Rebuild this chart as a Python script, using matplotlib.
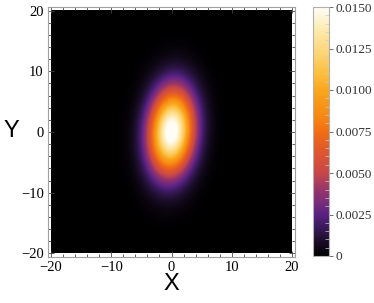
import numpy as np
import matplotlib
matplotlib.use("Agg")
import matplotlib.pyplot as plt
from matplotlib.colors import LinearSegmentedColormap
from matplotlib.ticker import MultipleLocator

# ---- data (Gaussian density surface) ----
x_range = [-20, 20]
y_range = [-20, 20]
mean_xy = [0.0, 0.0]
sigma_x = 2.6
sigma_y = 4.8
rho = 0.1
peak_density = 0.0158
vmin, vmax = 0.0, 0.015
cbar_ticks = [0, 0.0025, 0.005, 0.0075, 0.01, 0.0125, 0.015]
cbar_labels = ["0", "0.0025", "0.0050", "0.0075", "0.0100", "0.0125", "0.0150"]
axis_ticks = [-20, -10, 0, 10, 20]
axis_tick_labels = ["\u221220", "\u221210", "0", "10", "20"]

xs = np.linspace(x_range[0], x_range[1], 401)
ys = np.linspace(y_range[0], y_range[1], 401)
X, Y = np.meshgrid(xs, ys)
dx = (X - mean_xy[0]) / sigma_x
dy = (Y - mean_xy[1]) / sigma_y
Z = peak_density * np.exp(-(dx**2 - 2 * rho * dx * dy + dy**2) / (2 * (1 - rho**2)))

cmap = LinearSegmentedColormap.from_list("sunset", [
    (0.000, "#000000"),
    (0.067, "#201030"),
    (0.120, "#3c1a60"),
    (0.167, "#5a2282"),
    (0.200, "#702a7e"),
    (0.267, "#98356a"),
    (0.333, "#c84848"),
    (0.413, "#dd5530"),
    (0.500, "#f26d12"),
    (0.567, "#f78a14"),
    (0.667, "#f9a61e"),
    (0.733, "#fbbf40"),
    (0.833, "#fdd882"),
    (0.900, "#fde8a8"),
    (1.000, "#fffdf6"),
])

fig = plt.figure(figsize=(3.74, 3.03), dpi=100)
ax = fig.add_axes([48 / 374, 1 - 257 / 303, 247 / 374, 250 / 303])
im = ax.imshow(Z, extent=[x_range[0], x_range[1], y_range[0], y_range[1]],
               origin="lower", cmap=cmap, vmin=vmin, vmax=vmax,
               interpolation="bilinear", aspect="auto")
ax.set_xlim(-20.5, 20.5)
ax.set_ylim(-20.6, 20.6)

serif = ["Liberation Serif", "DejaVu Serif"]
for sp in ax.spines.values():
    sp.set_color("#a0a0a0")
    sp.set_linewidth(0.8)
ax.set_xticks(axis_ticks)
ax.set_yticks(axis_ticks)
ax.set_xticklabels(axis_tick_labels)
ax.set_yticklabels(axis_tick_labels)
ax.xaxis.set_minor_locator(MultipleLocator(2))
ax.yaxis.set_minor_locator(MultipleLocator(2))
ax.tick_params(which="both", direction="in", top=True, right=True,
               color="#444444", width=0.6)
ax.tick_params(which="major", length=4, labelsize=10.5, pad=3)
ax.tick_params(which="minor", length=2)
for lab in ax.get_xticklabels() + ax.get_yticklabels():
    lab.set_family(serif)

ax.set_xlabel("X", fontsize=17, family=["Liberation Sans"], labelpad=-1)
fig.text(4 / 374, 1 - 131 / 303, "Y", fontsize=17, family=["Liberation Sans"],
         ha="left", va="center")

cax = fig.add_axes([313 / 374, 1 - 256 / 303, 16 / 374, 249 / 303])
cb = fig.colorbar(im, cax=cax)
cb.outline.set_edgecolor("#b0b0b0")
cb.outline.set_linewidth(0.8)
cb.set_ticks(cbar_ticks)
cb.set_ticklabels(cbar_labels)
cax.yaxis.set_minor_locator(MultipleLocator(0.0005))
cax.tick_params(which="major", direction="out", length=3, color="#555555",
                width=0.6, labelsize=9.5, pad=2)
cax.tick_params(which="minor", direction="in", length=3, color="#cccccc",
                width=0.5)
for lab in cax.get_yticklabels():
    lab.set_family(serif)
    lab.set_color("#333333")

fig.savefig("out.png", dpi=100)
